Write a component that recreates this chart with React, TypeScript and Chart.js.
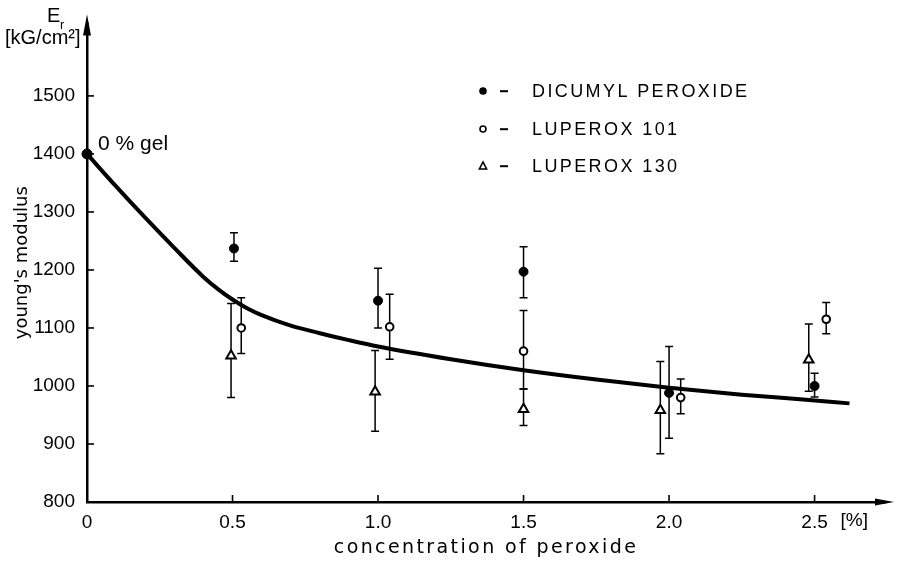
import React, { useEffect, useRef } from "react";
import { Chart, registerables } from "chart.js";

Chart.register(...registerables);

// ---- axis ticks ----
const xTicks = [0, 0.5, 1.0, 1.5, 2.0, 2.5];
const xTickLabels = ["0", "0.5", "1.0", "1.5", "2.0", "2.5"];
const yTicks = [800, 900, 1000, 1100, 1200, 1300, 1400, 1500];

// ---- fitted curve ----
const curveX = [0, 0.1, 0.2, 0.3, 0.4, 0.45, 0.5, 0.55, 0.6, 0.7, 0.8, 0.9, 1.0, 1.25, 1.5, 1.75, 2.0, 2.25, 2.45, 2.62];
const curveY = [1400, 1344, 1290, 1238, 1188, 1167, 1149, 1134, 1122, 1104, 1091, 1079, 1068, 1046, 1027, 1011, 997, 985, 977, 970];

// ---- 0 % gel point ----
const gelX = [0];
const gelY = [1400];

// ---- DICUMYL PEROXIDE ----
const dicumylX = [0.505, 1.0, 1.5, 2.0, 2.5];
const dicumylY = [1237, 1147, 1197, 988, 1000];
const dicumylLo = [1215, 1100, 1152, 910, 981];
const dicumylHi = [1264, 1203, 1240, 1068, 1022];

// ---- LUPEROX 101 ----
const lup101X = [0.53, 1.04, 1.5, 2.04, 2.54];
const lup101Y = [1100, 1102, 1060, 980, 1115];
const lup101Lo = [1056, 1046, 995, 952, 1090];
const lup101Hi = [1152, 1158, 1130, 1012, 1144];

// ---- LUPEROX 130 ----
const lup130X = [0.495, 0.99, 1.5, 1.97, 2.48];
const lup130Y = [1052, 990, 960, 958, 1045];
const lup130Lo = [980, 922, 932, 883, 991];
const lup130Hi = [1142, 1061, 995, 1042, 1107];

const legendLabels = ["DICUMYL PEROXIDE", "LUPEROX 101", "LUPEROX 130"];

const NUM_FONT = '"Liberation Sans", Arial, sans-serif';
const TXT_FONT = '"DejaVu Sans", sans-serif';

function pts(xs: number[], ys: number[]) {
  return xs.map((x, i) => ({ x, y: ys[i] }));
}

export default function App() {
  const ref = useRef<HTMLCanvasElement>(null);

  useEffect(() => {
    document.body.style.margin = "0";
    const canvas = ref.current!;

    const customPlugin = {
      id: "custom",
      beforeDatasetsDraw(chart: any) {
        const { ctx, scales } = chart;
        const xs = scales.x;
        const ys = scales.y;
        ctx.save();
        ctx.strokeStyle = "#000";
        ctx.lineWidth = 1.5;
        chart.data.datasets.forEach((ds: any) => {
          if (!ds.errLo) return;
          ds.data.forEach((p: any, i: number) => {
            const px = xs.getPixelForValue(p.x);
            const yl = ys.getPixelForValue(ds.errLo[i]);
            const yh = ys.getPixelForValue(ds.errHi[i]);
            ctx.beginPath();
            ctx.moveTo(px, yl);
            ctx.lineTo(px, yh);
            ctx.moveTo(px - 4, yl);
            ctx.lineTo(px + 4, yl);
            ctx.moveTo(px - 4, yh);
            ctx.lineTo(px + 4, yh);
            ctx.stroke();
          });
        });
        ctx.restore();
      },
      afterDraw(chart: any) {
        const { ctx, chartArea: ca, scales } = chart;
        const xs = scales.x;
        const ys = scales.y;
        ctx.save();
        ctx.strokeStyle = "#000";
        ctx.fillStyle = "#000";
        ctx.lineWidth = 1.6;
        // inner ticks
        yTicks.forEach((v) => {
          if (v === 800) return;
          const py = ys.getPixelForValue(v);
          ctx.beginPath();
          ctx.moveTo(ca.left, py);
          ctx.lineTo(ca.left + 7, py);
          ctx.stroke();
        });
        xTicks.forEach((v) => {
          if (v === 0) return;
          const px = xs.getPixelForValue(v);
          ctx.beginPath();
          ctx.moveTo(px, ca.bottom);
          ctx.lineTo(px, ca.bottom - 7);
          ctx.stroke();
        });
        // arrows
        ctx.beginPath();
        ctx.moveTo(ca.left, ca.top - 9);
        ctx.lineTo(ca.left - 4, ca.top + 12);
        ctx.lineTo(ca.left + 4, ca.top + 12);
        ctx.closePath();
        ctx.fill();
        ctx.beginPath();
        ctx.moveTo(ca.right + 9, ca.bottom);
        ctx.lineTo(ca.right - 10, ca.bottom - 3.5);
        ctx.lineTo(ca.right - 10, ca.bottom + 3.5);
        ctx.closePath();
        ctx.fill();

        // texts
        ctx.textBaseline = "middle";
        ctx.textAlign = "left";
        ctx.font = `20px ${NUM_FONT}`;
        ctx.fillText("E", ca.left - 40, 16);
        ctx.font = `13px ${NUM_FONT}`;
        ctx.fillText("r", ca.left - 27, 25);
        ctx.font = `20px ${NUM_FONT}`;
        ctx.fillText("[kG/cm²]", 5, 38);

        const gx = xs.getPixelForValue(gelX[0]);
        const gy = ys.getPixelForValue(gelY[0]);
        ctx.font = `21px ${NUM_FONT}`;
        ctx.fillText("0 % gel", gx + 11, gy - 10);

        ctx.font = `19px ${NUM_FONT}`;
        ctx.fillText("[%]", xs.getPixelForValue(2.5) + 26, ca.bottom + 19);

        // axis titles
        ctx.font = `19px ${TXT_FONT}`;
        (ctx as any).letterSpacing = "2.4px";
        ctx.textAlign = "center";
        ctx.fillText("concentration of peroxide", (ca.left + ca.right) / 2, 548);
        ctx.save();
        ctx.translate(22, (ca.top + ca.bottom) / 2);
        ctx.rotate(-Math.PI / 2);
        ctx.font = `18px ${TXT_FONT}`;
        (ctx as any).letterSpacing = "0px";
        ctx.fillText("young's modulus", 0, 0);
        ctx.restore();

        // legend
        const rows = [91, 129, 166];
        const mx = 483;
        ctx.lineWidth = 1.6;
        ctx.beginPath();
        ctx.arc(mx, rows[0], 3.8, 0, Math.PI * 2);
        ctx.fill();
        ctx.beginPath();
        ctx.arc(mx, rows[1], 3, 0, Math.PI * 2);
        ctx.stroke();
        ctx.beginPath();
        ctx.moveTo(mx, rows[2] - 4);
        ctx.lineTo(mx - 3.6, rows[2] + 3);
        ctx.lineTo(mx + 3.6, rows[2] + 3);
        ctx.closePath();
        ctx.stroke();
        ctx.textAlign = "left";
        ctx.font = `18px ${NUM_FONT}`;
        rows.forEach((ry, i) => {
          (ctx as any).letterSpacing = "0px";
          ctx.fillRect(500, ry - 0.8, 8, 2);
          (ctx as any).letterSpacing = "2.4px";
          ctx.fillText(legendLabels[i], 532, ry + 1);
        });
        (ctx as any).letterSpacing = "0px";
        ctx.restore();
      },
    };

    const chart = new Chart(canvas, {
      type: "scatter",
      data: {
        datasets: [
          {
            type: "line",
            label: "curve",
            data: pts(curveX, curveY),
            borderColor: "#000",
            borderWidth: 4,
            pointRadius: 0,
            cubicInterpolationMode: "monotone",
            fill: false,
            clip: false,
            order: 10,
          } as any,
          {
            label: "gel",
            data: pts(gelX, gelY),
            pointRadius: 5,
            pointStyle: "circle",
            backgroundColor: "#000",
            borderColor: "#000",
            borderWidth: 1,
            clip: false,
            order: 1,
          },
          {
            label: legendLabels[0],
            data: pts(dicumylX, dicumylY),
            errLo: dicumylLo,
            errHi: dicumylHi,
            pointRadius: 4.5,
            pointStyle: "circle",
            backgroundColor: "#000",
            borderColor: "#000",
            borderWidth: 1,
            clip: false,
            order: 1,
          } as any,
          {
            label: legendLabels[1],
            data: pts(lup101X, lup101Y),
            errLo: lup101Lo,
            errHi: lup101Hi,
            pointRadius: 3.8,
            pointStyle: "circle",
            backgroundColor: "#fff",
            borderColor: "#000",
            borderWidth: 2,
            clip: false,
            order: 1,
          } as any,
          {
            label: legendLabels[2],
            data: pts(lup130X, lup130Y),
            errLo: lup130Lo,
            errHi: lup130Hi,
            pointRadius: 5.5,
            pointStyle: "triangle",
            backgroundColor: "#fff",
            borderColor: "#000",
            borderWidth: 2,
            clip: false,
            order: 1,
          } as any,
        ],
      },
      options: {
        animation: false,
        responsive: false,
        devicePixelRatio: 1,
        layout: { padding: { top: 15, right: 18, left: 0, bottom: 0 } },
        plugins: {
          legend: { display: false },
          tooltip: { enabled: false },
        },
        scales: {
          x: {
            type: "linear",
            min: 0,
            max: 2.742,
            afterBuildTicks: (s: any) => {
              s.ticks = xTicks.map((v) => ({ value: v }));
            },
            afterFit: (s: any) => {
              s.height = 66;
            },
            ticks: {
              callback: (v: any) => {
                const i = xTicks.indexOf(Number(v));
                return i >= 0 ? xTickLabels[i] : "";
              },
              font: { family: NUM_FONT, size: 19 },
              color: "#000",
              padding: 9,
              maxRotation: 0,
              autoSkip: false,
            },
            grid: { display: false, drawTicks: false },
            border: { display: true, color: "#000", width: 2.5 },
          },
          y: {
            type: "linear",
            min: 800,
            max: 1625,
            afterBuildTicks: (s: any) => {
              s.ticks = yTicks.map((v) => ({ value: v }));
            },
            afterFit: (s: any) => {
              s.width = 87;
            },
            ticks: {
              callback: (v: any) => String(v),
              font: { family: NUM_FONT, size: 19 },
              color: "#000",
              padding: 12,
              autoSkip: false,
            },
            grid: { display: false, drawTicks: false },
            border: { display: true, color: "#000", width: 2.5 },
          },
        },
      },
      plugins: [customPlugin],
    });

    return () => chart.destroy();
  }, []);

  return (
    <div style={{ width: 903, height: 568 }}>
      <canvas ref={ref} width={903} height={568} style={{ display: "block" }} />
    </div>
  );
}
